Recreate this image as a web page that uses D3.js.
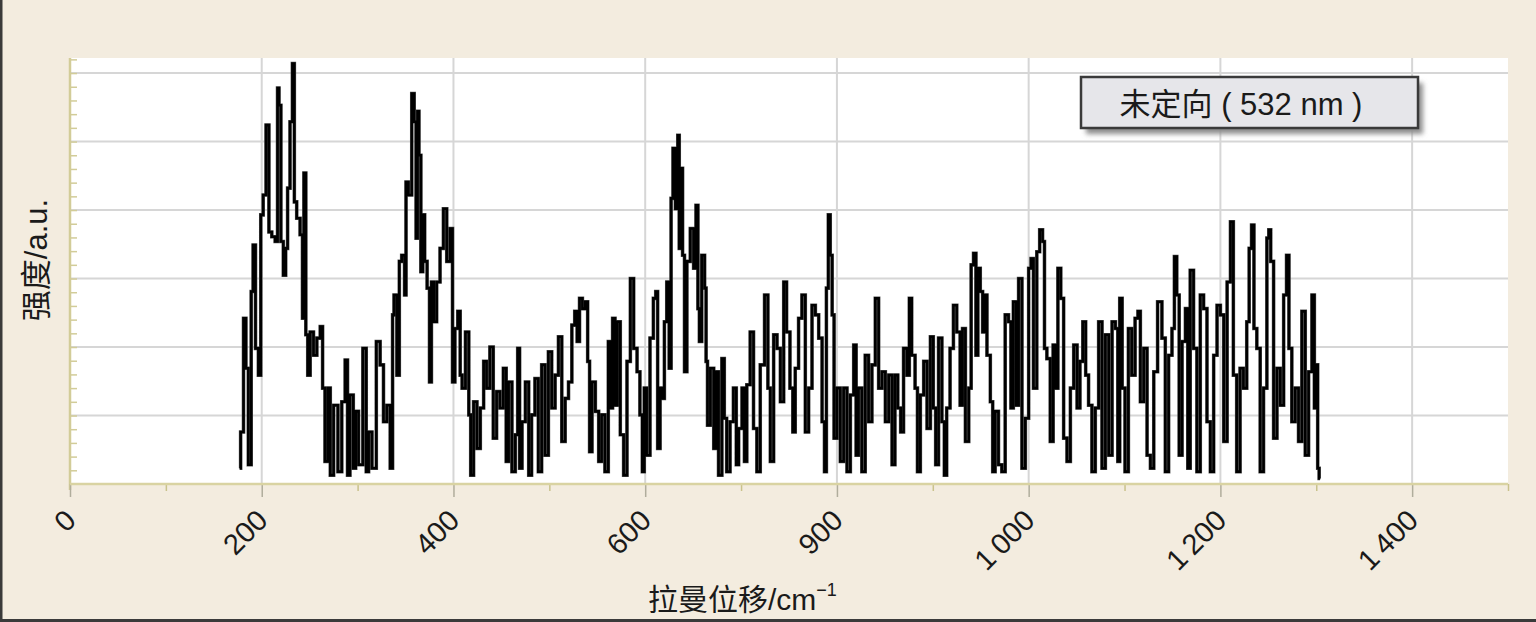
<!DOCTYPE html>
<html><head><meta charset="utf-8">
<script src="https://cdn.jsdelivr.net/npm/d3@7"></script>
<style>html,body{margin:0;padding:0;background:#f3ecdf;} svg{display:block;}</style>
</head><body><svg id="c" width="1536" height="622"></svg>
<script>
// Raman shift (cm^-1) and intensity (a.u.)
const shift = [
177,179,183,184,188,190,192,195,198,200,203,206,209,212,216,217,219,221,224,226,228,231,233,235,238,242,243,245,247,249,252,256,259,263,264,268,270,273,277,282,285,289,290,294,297,299,303,308,310,313,317,322,325,329,332,336,337,339,343,344,348,350,351,355,358,360,362,363,365,367,369,371,374,376,378,381,384,388,391,395,398,400,
403,406,408,410,415,417,419,423,426,430,433,436,440,443,447,450,454,456,459,463,466,468,470,473,477,480,483,487,490,494,497,501,504,508,511,515,518,522,525,528,530,533,536,539,541,543,546,550,553,556,560,563,565,567,570,572,576,579,583,586,590,593,596,598,600,603,607,610,612,614,617,619,621,624,626,628,630,
633,635,636,638,640,642,645,649,652,654,656,657,661,663,664,666,670,673,675,678,682,683,687,690,694,696,699,703,704,708,711,715,718,722,727,729,732,736,739,743,746,749,753,755,758,762,765,769,772,776,779,783,786,788,790,792,794,796,798,802,805,809,812,816,819,821,824,828,831,835,838,842,845,849,852,856,859,
862,865,868,871,875,876,880,883,885,889,892,896,899,902,904,908,911,913,916,920,923,927,930,932,936,939,941,944,946,948,951,953,955,958,962,963,967,970,974,977,981,982,986,988,991,995,998,1002,1003,1007,1010,1013,1016,1017,1021,1024,1027,1029,1032,1035,1038,1042,1045,1049,1052,1055,1058,1061,1064,1068,1071,1075,1078,1082,1085,1089,
1092,1094,1096,1099,1102,1106,1109,1113,1115,1118,1122,1125,1129,1132,1137,1141,1144,1148,1151,1153,1156,1158,1162,1165,1167,1170,1174,1177,1181,1184,1188,1191,1195,1198,1202,1205,1209,1212,1215,1219,1222,1226,1229,1231,1234,1236,1240,1243,1247,1250,1251,1254,1257,1261,1264,1268,1270,1273,1276,1280,1283,1287,1290,1294,1297,1299,1301,1302,1304
];
const intensity = [
0.23,0.76,2.42,1.69,0.28,2.81,3.49,1.98,1.59,3.93,4.22,5.24,3.68,3.61,3.54,5.78,5.53,3.54,3.05,3.44,4.32,5.29,6.14,4.12,3.88,3.64,2.42,4.54,2.18,1.59,2.22,1.88,2.13,2.30,1.40,0.33,1.40,0.13,1.15,0.18,1.20,1.81,0.13,1.30,0.23,1.06,0.28,1.98,0.18,0.76,0.23,2.08,1.74,0.91,1.15,0.23,2.47,2.76,1.59,3.25,3.34,2.76,4.41,4.22,5.70,5.29,3.59,5.44,4.80,3.10,3.93,3.25,2.86,1.49,2.95,2.37,2.95,3.44,4.02,3.25,3.73,1.49,
2.27,2.52,1.59,1.40,2.22,1.01,0.13,1.20,0.52,1.11,1.79,1.40,2.00,0.67,1.35,1.11,1.69,0.33,1.49,0.18,0.72,1.98,0.23,0.91,1.49,0.13,1.01,1.54,0.18,1.74,0.42,1.93,1.11,1.59,2.15,0.62,1.25,1.49,2.32,2.52,2.08,2.71,2.56,2.66,1.79,0.47,1.49,1.06,0.33,1.01,0.18,2.08,1.11,2.42,1.15,2.37,0.72,0.13,1.79,3.00,1.98,1.64,1.01,0.18,1.40,0.42,2.13,2.71,2.81,0.52,1.40,1.25,2.37,2.95,1.69,4.17,4.90,
4.02,5.09,3.44,4.61,3.34,1.64,3.25,3.73,3.15,4.07,2.56,2.08,3.34,2.86,1.79,0.86,1.69,0.52,1.64,0.13,1.83,0.96,0.18,0.91,1.40,0.28,0.81,1.40,0.33,1.45,2.22,0.81,0.18,1.74,2.76,1.40,0.33,2.18,1.98,1.20,2.95,2.22,1.40,0.76,1.69,2.42,2.76,0.76,1.40,2.61,2.47,2.13,0.91,0.18,2.86,3.93,3.34,2.47,0.67,1.40,0.33,1.40,0.18,1.30,2.03,0.42,1.40,0.18,1.88,0.91,1.74,2.71,1.40,1.64,0.91,1.59,0.28,
1.59,1.11,0.76,1.98,1.59,2.71,1.88,1.40,0.18,1.30,1.79,0.81,2.15,1.11,0.28,2.13,0.91,0.13,1.11,1.98,2.61,2.22,1.15,2.27,0.62,1.40,3.20,3.37,1.88,3.15,2.81,2.22,2.76,1.88,1.20,0.18,1.06,0.28,0.18,2.47,2.37,1.11,2.66,1.15,3.00,0.23,0.96,3.15,3.29,1.40,3.39,3.71,3.54,1.98,1.83,0.62,2.03,1.40,3.15,2.71,0.67,0.33,1.40,2.03,1.11,1.79,2.37,1.59,1.15,0.18,1.11,2.37,0.23,2.18,0.42,2.37,
2.27,0.33,2.71,1.40,0.18,2.27,1.59,2.42,2.52,1.20,1.98,0.42,0.23,1.64,2.66,2.13,0.18,1.88,2.27,3.32,2.76,0.42,2.08,2.56,0.23,3.12,1.98,0.18,2.76,2.56,0.91,0.18,1.88,2.61,2.47,0.62,2.95,3.83,1.59,0.18,1.69,1.40,2.37,3.44,3.78,2.27,1.98,0.18,1.40,3.59,3.71,3.25,0.67,1.69,1.15,2.76,3.34,1.98,0.91,1.40,0.62,2.52,0.42,1.64,2.76,1.11,1.74,0.23,0.08
];
const xTickValues = [0,200,400,600,800,1000,1200,1400];
const xTickLabels = ["0","200","400","600","900","1\u2009000","1\u2009200","1\u2009400"];
const xMinorTicks = [100,300,500,700,900,1100,1300,1500];
const yGridValues = [1,2,3,4,5,6];
const legendLabel = "未定向 ( 532 nm )";
const xTitle = "拉曼位移/cm";
const xTitleSup = "−1";
const yTitle = "强度/a.u.";

const data = shift.map((s,i)=>({s, v: intensity[i]}));
const FONT = "'Liberation Sans','Noto Sans CJK SC',sans-serif";
const svg = d3.select("#c");
const x = d3.scaleLinear().domain([0,1500]).range([70,1508]);
const y = d3.scaleLinear().domain([0,6.22]).range([484,58]);

svg.append("rect").attr("width",1536).attr("height",622).attr("fill","#f3ecdf");
// plot area
svg.append("rect").attr("x",x(0)).attr("y",y(6.22)).attr("width",x(1500)-x(0)).attr("height",y(0)-y(6.22)).attr("fill","#ffffff");

// gridlines
svg.append("g").selectAll("line").data(yGridValues).join("line")
  .attr("x1",x(0)).attr("x2",x(1500)).attr("y1",d=>y(d)).attr("y2",d=>y(d))
  .attr("stroke","#d6d6d6").attr("stroke-width",2);
svg.append("g").selectAll("line").data(xTickValues.slice(1)).join("line")
  .attr("x1",d=>x(d)).attr("x2",d=>x(d)).attr("y1",y(6.22)).attr("y2",y(0))
  .attr("stroke","#d6d6d6").attr("stroke-width",2);

// spectrum
const line = d3.line().x(d=>x(d.s)).y(d=>y(d.v)).curve(d3.curveStep);
svg.append("path").datum(data).attr("d",line).attr("fill","none")
  .attr("stroke","#555").attr("stroke-width",3.6).attr("stroke-linejoin","miter");
svg.append("path").datum(data).attr("d",line).attr("fill","none")
  .attr("stroke","#000").attr("stroke-width",2.6).attr("stroke-linejoin","miter");

// y axis (minor ticks inside)
const yTicks = d3.range(1,32).map(i=>+(i*0.2).toFixed(2));
const yAxis = d3.axisLeft(y).tickValues(yTicks).tickSize(-7).tickFormat("");
const gy = svg.append("g").attr("transform",`translate(${x(0)},0)`).call(yAxis);
gy.select(".domain").remove();
gy.selectAll(".tick line").attr("stroke","#d2cc98").attr("stroke-width",1.5);
svg.append("line").attr("x1",x(0)).attr("x2",x(0)).attr("y1",y(6.22)).attr("y2",y(0)+6)
  .attr("stroke","#d2cc98").attr("stroke-width",2.5);

// x axis
const gxMinor = svg.append("g").attr("transform",`translate(0,${y(0)})`)
  .call(d3.axisBottom(x).tickValues(xMinorTicks).tickSize(7).tickFormat(""));
gxMinor.select(".domain").remove();
gxMinor.selectAll(".tick line").attr("stroke","#c9c28c").attr("stroke-width",1.5);
const gx = svg.append("g").attr("transform",`translate(0,${y(0)})`)
  .call(d3.axisBottom(x).tickValues(xTickValues).tickSize(13).tickFormat((d,i)=>xTickLabels[i]));
gx.select(".domain").remove();
gx.selectAll(".tick line").attr("stroke","#b0ad9c").attr("stroke-width",1.5);
gx.selectAll(".tick text")
  .attr("fill","#1a1a1a").attr("font-family",FONT).attr("font-size",29)
  .attr("text-anchor","end").attr("x",0).attr("y",0).attr("dy","0.35em")
  .attr("transform","translate(0,31) rotate(-45)");
svg.append("line").attr("x1",x(0)).attr("x2",x(1500)).attr("y1",y(0)).attr("y2",y(0))
  .attr("stroke","#d9d3a2").attr("stroke-width",2.5);

// axis titles
const xt = svg.append("text").attr("x",648).attr("y",610)
  .attr("font-family",FONT).attr("font-size",30).attr("fill","#1a1a1a");
xt.append("tspan").text(xTitle);
xt.append("tspan").attr("dy",-14).attr("font-size",18).text(xTitleSup);
svg.append("text").attr("transform","translate(47,260) rotate(-90)")
  .attr("text-anchor","middle").attr("font-family",FONT).attr("font-size",31)
  .attr("fill","#1a1a1a").text(yTitle);

// legend
const defs = svg.append("defs");
defs.append("filter").attr("id","blur").append("feGaussianBlur").attr("stdDeviation",2.5);
svg.append("rect").attr("x",1086).attr("y",83).attr("width",337).attr("height",51)
  .attr("fill","#8e8e8e").attr("filter","url(#blur)");
svg.append("rect").attr("x",1081).attr("y",77).attr("width",337).attr("height",51)
  .attr("fill","#e6e6ea").attr("stroke","#3a3a3a").attr("stroke-width",2.5);
svg.append("text").attr("x",1241).attr("y",115).attr("text-anchor","middle")
  .attr("font-family",FONT).attr("font-size",31).attr("fill","#1a1a1a").text(legendLabel);

// frame edges
svg.append("rect").attr("x",0).attr("y",0).attr("width",2.5).attr("height",622).attr("fill","#3a3a3a");
svg.append("rect").attr("x",0).attr("y",619).attr("width",1536).attr("height",3).attr("fill","#3a3a3a");
</script></body></html>
